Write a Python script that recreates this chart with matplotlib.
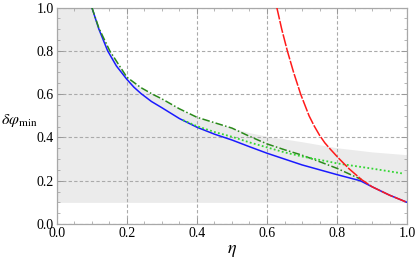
import numpy as np
import matplotlib
matplotlib.use('Agg')
import matplotlib.pyplot as plt
from matplotlib.ticker import MultipleLocator

plt.rcParams['font.family'] = ['Liberation Serif', 'DejaVu Serif']
plt.rcParams['mathtext.fontset'] = 'stix'

# ---- data ----
blue_x = [0.1, 0.12, 0.145, 0.17, 0.2, 0.22, 0.24, 0.27, 0.3, 0.35, 0.4, 0.45,
          0.5, 0.55, 0.6, 0.7, 0.8, 0.866, 0.9, 0.95, 1.0]
blue_y = [1.0, 0.9, 0.8, 0.73, 0.668, 0.632, 0.603, 0.566, 0.537, 0.487, 0.447,
          0.415, 0.388, 0.357, 0.327, 0.273, 0.228, 0.2, 0.172, 0.133, 0.1]

dashdot_x = [0.1, 0.12, 0.151, 0.175, 0.2, 0.24, 0.275, 0.3, 0.35, 0.4, 0.45,
             0.5, 0.55, 0.6, 0.65, 0.7, 0.75, 0.8, 0.87]
dashdot_y = [1.0, 0.905, 0.8, 0.74, 0.678, 0.63, 0.598, 0.578, 0.532, 0.493,
             0.468, 0.443, 0.405, 0.37, 0.343, 0.318, 0.288, 0.257, 0.205]

dotted_x = [0.36, 0.4, 0.45, 0.5, 0.55, 0.6, 0.65, 0.7, 0.78, 0.8, 0.9, 0.985]
dotted_y = [0.48, 0.452, 0.425, 0.403, 0.377, 0.354, 0.331, 0.312, 0.287,
            0.28, 0.256, 0.234]

red_x = [0.628, 0.642, 0.658, 0.676, 0.696, 0.72, 0.735, 0.75, 0.765, 0.78,
         0.805, 0.835, 0.87, 0.9, 0.95, 1.0]
red_y = [1.0, 0.9, 0.8, 0.7, 0.6, 0.5, 0.452, 0.41, 0.375, 0.347, 0.303,
         0.254, 0.205, 0.172, 0.133, 0.1]

# upper edge of the grey region right of eta = 0.5
shade_x = [0.5, 0.55, 0.6, 0.7, 0.8, 0.9, 1.0]
shade_top = [0.443, 0.422, 0.405, 0.38, 0.352, 0.333, 0.32]
shade_bottom = 0.1

ticks = [0.0, 0.2, 0.4, 0.6, 0.8, 1.0]
tick_labels = ['0.0', '0.2', '0.4', '0.6', '0.8', '1.0']

# ---- figure ----
fig = plt.figure(figsize=(4.15, 2.64), dpi=100)
ax = fig.add_axes([0.137, 0.1515, 0.844, 0.82])

# grey band: full height left of 0.1, then under the dash-dot curve, then the top edge
band_x = [0.0] + dashdot_x[:12] + shade_x[1:]
band_y = [1.0] + dashdot_y[:12] + shade_top[1:]
ax.fill_between(band_x, shade_bottom, band_y, color='#ebebeb', lw=0, zorder=0)

ax.plot(blue_x, blue_y, color='#1a1aff', lw=1.1, zorder=3)
ax.plot(dashdot_x, dashdot_y, color='#2a8a1a', lw=1.1, dashes=(5, 1.5, 1, 1.5), zorder=4)
ax.plot(dotted_x, dotted_y, color='#33d633', lw=1.3, dashes=(1, 1.3), zorder=4)
ax.plot(red_x, red_y, color='#ff1a1a', lw=1.1, dashes=(8, 1), zorder=5)

ax.set_xlim(0, 1)
ax.set_ylim(0, 1)
ax.set_xticks(ticks)
ax.set_yticks(ticks)
ax.set_xticklabels(tick_labels)
ax.set_yticklabels(tick_labels)
ax.xaxis.set_minor_locator(MultipleLocator(0.05))
ax.yaxis.set_minor_locator(MultipleLocator(0.05))
ax.tick_params(which='both', direction='in', top=True, right=True,
               color='#999999', labelsize=10, pad=2)
ax.tick_params(which='major', length=4, width=0.7)
ax.tick_params(which='minor', length=2, width=0.5)
for s in ax.spines.values():
    s.set_color('#a8a8a8')
    s.set_linewidth(0.9)
ax.grid(True, which='major', color='#aaaaaa', ls=(0, (3, 2)), lw=0.8, zorder=1)
ax.set_axisbelow(True)

fig.text(0.003, 0.545, r'$\delta\varphi_{\mathrm{min}}$', fontsize=11.5,
         ha='left', va='center')
fig.text(0.559, 0.05, r'$\eta$', fontsize=13, ha='center', va='center')

fig.savefig('out.png', dpi=100)
